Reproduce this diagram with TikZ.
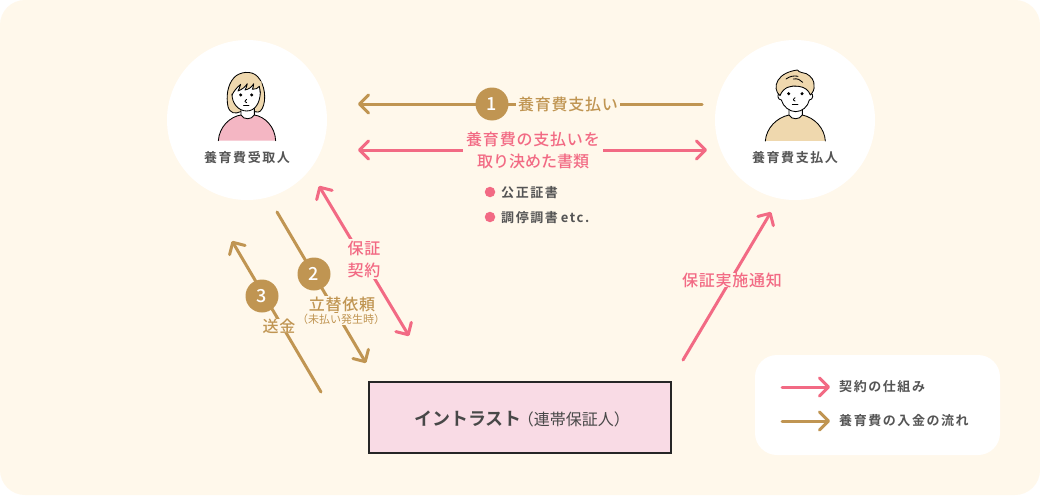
\documentclass[tikz,border=0pt]{standalone}
\usepackage{fontspec}
\setmainfont[BoldFont={Noto Sans CJK JP Bold}]{Noto Sans CJK JP Medium}
\newfontfamily\jpa[LetterSpace=5]{Noto Sans CJK JP Medium}
\newfontfamily\jpc[LetterSpace=0]{Noto Sans CJK JP Medium}
\newfontfamily\jpb[LetterSpace=12,BoldFont={Noto Sans CJK JP Bold}]{Noto Sans CJK JP Medium}
\newfontfamily\jpr{Noto Sans CJK JP}
\usetikzlibrary{arrows.meta}
\definecolor{bgc}{HTML}{FFF8EB}
\definecolor{pinkc}{HTML}{F26A84}
\definecolor{brownc}{HTML}{C09552}
\definecolor{darkc}{HTML}{555555}
\definecolor{boxc}{HTML}{F9DBE5}
\definecolor{hairc}{HTML}{EFD8AE}
\definecolor{shirtp}{HTML}{F4B6C3}
\tikzset{
  x=1pt,y=-1pt,
  flow/.style={line width=3pt,line cap=round,line join=round,-{Straight Barb[length=9pt,width=18pt,line width=3pt,round]}},
  pinkflow/.style={flow,draw=pinkc},
  brownflow/.style={flow,draw=brownc},
  bothflow/.style={pinkflow,{Straight Barb[length=9pt,width=18pt,line width=3pt,round]}-{Straight Barb[length=9pt,width=18pt,line width=3pt,round]}},
  person/.style={circle,fill=white,minimum size=160pt,inner sep=0pt},
  numdot/.style={circle,fill=brownc,text=white,minimum size=33pt,inner sep=0pt,font=\fontsize{18}{20}\selectfont},
  lab/.style={fill=bgc,inner sep=2pt,align=center,font=\jpa\fontsize{16}{22}\selectfont},
  dark/.style={text=darkc,inner sep=0pt,font=\jpb\bfseries\fontsize{13}{16}\selectfont},
  bullet/.style={circle,fill=pinkc,minimum size=10.5pt,inner sep=0pt},
  ink/.style={draw=black,line width=.85pt,line join=round,line cap=round},
  zoomed/.style={x=0.3333pt,y=-0.3333pt},
}
\begin{document}
\begin{tikzpicture}
\useasboundingbox (0,0) rectangle (1040,495);
\fill[white] (0,0) rectangle (1040,495);
\fill[bgc,rounded corners=25pt] (0,0) rectangle (1040,495);

\node[person] (recv) at (247,120) {};
\node[person] (payer) at (795,120) {};
\node[dark] (recvlab) at (247,158) {養育費受取人};
\node[dark] (payerlab) at (795,158) {養育費支払人};

% woman
\begin{scope}[shift={(210,65)},zoomed]
  \filldraw[ink,fill=hairc] (92,140) .. controls (75,148) and (60,145) .. (54,125)
    .. controls (48,95) and (52,60) .. (72,38) .. controls (88,20) and (125,15) .. (143,35)
    .. controls (165,58) and (170,105) .. (157,130) .. controls (150,145) and (140,142) .. (130,138) -- cycle;
  \fill[shirtp] (25,227) .. controls (28,185) and (60,155) .. (93,150)
    .. controls (100,163) and (125,163) .. (133,150) .. controls (165,155) and (195,185) .. (197,227) -- cycle;
  \draw[ink] (25,227) .. controls (28,185) and (60,155) .. (93,150);
  \draw[ink] (133,150) .. controls (165,155) and (195,185) .. (197,227);
  \filldraw[ink,fill=white] (93,130) -- (93,150) .. controls (100,165) and (125,165) .. (133,150) -- (133,130) -- cycle;
  \filldraw[ink,fill=white] (66,88) .. controls (66,115) and (85,138) .. (110,138)
    .. controls (135,138) and (150,115) .. (151,82) -- (150,60) -- (80,60) -- cycle;
  \fill[hairc] (66,90) .. controls (72,78) and (80,68) .. (92,58)
    .. controls (90,66) and (87,72) .. (84,78) .. controls (95,74) and (106,66) .. (112,56)
    .. controls (111,64) and (108,70) .. (105,75) .. controls (116,73) and (126,66) .. (131,56)
    .. controls (131,64) and (129,69) .. (127,73) .. controls (137,73) and (144,70) .. (148,64)
    .. controls (149,70) and (150,76) .. (151,84) -- (155,50) -- (105,35) -- (62,65) -- cycle;
  \draw[ink] (66,90) .. controls (72,78) and (80,68) .. (92,58)
    .. controls (90,66) and (87,72) .. (84,78) .. controls (95,74) and (106,66) .. (112,56)
    .. controls (111,64) and (108,70) .. (105,75) .. controls (116,73) and (126,66) .. (131,56)
    .. controls (131,64) and (129,69) .. (127,73) .. controls (137,73) and (144,70) .. (148,64)
    .. controls (149,70) and (150,76) .. (151,84);
  \fill (92,90) circle (5);
  \fill (125,90) circle (5);
  \draw[ink] (110,103) .. controls (103,108) and (104,113) .. (110,113);
  \draw[ink] (101,122) -- (117,122);
\end{scope}

% man
\begin{scope}[shift={(758,65)},zoomed]
  \fill[hairc] (22,228) .. controls (25,190) and (55,158) .. (93,150)
    .. controls (100,163) and (125,163) .. (133,150) .. controls (170,158) and (200,190) .. (202,228) -- cycle;
  \draw[ink] (22,228) .. controls (25,190) and (55,158) .. (93,150);
  \draw[ink] (133,150) .. controls (170,158) and (200,190) .. (202,228);
  \filldraw[ink,fill=white] (93,125) -- (93,150) .. controls (100,165) and (125,165) .. (133,150) -- (133,125) -- cycle;
  \filldraw[ink,fill=white] (66,85) .. controls (56,85) and (58,105) .. (70,105)
    .. controls (75,125) and (95,140) .. (113,140) .. controls (132,140) and (150,125) .. (154,105)
    .. controls (166,105) and (168,85) .. (157,85) .. controls (150,55) and (75,55) .. (66,85) -- cycle;
  \filldraw[ink,fill=hairc] (66,92) .. controls (53,82) and (50,62) .. (60,46)
    .. controls (70,28) and (95,18) .. (118,15) .. controls (125,24) and (135,22) .. (145,26)
    .. controls (160,34) and (170,48) .. (168,62)
    .. controls (170,72) and (165,82) .. (157,90) .. controls (152,76) and (140,66) .. (122,64)
    .. controls (100,60) and (76,66) .. (66,92) -- cycle;
  \draw[ink] (84,42) .. controls (95,34) and (108,31) .. (120,34);
  \draw[ink] (106,42) .. controls (118,40) and (128,44) .. (134,52);
  \fill (92,86) circle (5);
  \fill (132,86) circle (5);
  \draw[ink] (111,98) .. controls (104,103) and (105,108) .. (111,108);
  \draw[ink] (103,118) -- (120,118);
\end{scope}

% free ends
\coordinate (a1s) at (702,104); \coordinate (a1e) at (358,104);
\coordinate (a2s) at (358,150); \coordinate (a2e) at (707,150);
\coordinate (a3s) at (319,186); \coordinate (a3e) at (409,336);
\coordinate (a4s) at (277,212); \coordinate (a4e) at (366,363);
\coordinate (a5s) at (321,392); \coordinate (a5e) at (232,241);
\coordinate (a6s) at (683,360); \coordinate (a6e) at (771,212);

\draw[brownflow] (a1s) -- (a1e);
\draw[bothflow] (a2s) -- (a2e);
\draw[bothflow] (a3s) -- (a3e);
\draw[brownflow] (a4s) -- (a4e);
\draw[brownflow] (a5s) -- (a5e);
\draw[pinkflow] (a6s) -- (a6e);

\node[numdot] (n1) at (492,104) {1};
\node[numdot] (n2) at (314,274) {2};
\node[numdot] (n3) at (262,296) {3};

\node[lab,text=brownc] (l1) at (568,104) {養育費支払い};
\node[lab,text=pinkc,inner sep=0pt,inner xsep=3pt] (l2) at (533,150.5) {養育費の支払いを\\{\jpc\fontsize{16}{22}\selectfont 取り決めた書類}};
\node[lab,text=pinkc] (l3) at (364,259) {保証\\契約};
\node[lab,text=brownc,inner sep=0pt,inner ysep=1pt,inner xsep=1pt] (l4) at (342,304) {立替依頼};
\node[text=brownc,fill=bgc,inner sep=1pt,font=\jpr\fontsize{11}{13}\selectfont] (l4b) at (341,319) {（未払い発生時）};
\node[lab,text=brownc,inner sep=0pt,inner xsep=1pt] (l5) at (279,326) {送金};
\node[lab,text=pinkc,inner sep=0pt,inner xsep=1pt] (l6) at (732,280) {保証実施通知};

\node[bullet] (b1) at (490,192) {};
\node[bullet] (b2) at (490,217) {};
\node[dark,anchor=west] (t1) at (501,193) {公正証書};
\node[dark,anchor=west] (t2) at (501,218) {調停調書 \kern-1.5pt etc.};

\node[draw=black!85,line width=2pt,fill=boxc,minimum width=302pt,minimum height=71pt,inner sep=0pt] (box) at (519.5,417.5) {};
\node[text=darkc!85!black,inner sep=0pt,anchor=west] (boxlab) at (414,419)
  {\fontsize{18}{24}\selectfont\bfseries イントラスト\hspace{-4pt}\mdseries\jpr\fontsize{16}{24}\selectfont（連帯保証人）};

\node[fill=white,rounded corners=22pt,minimum width=245pt,minimum height=100pt,inner sep=0pt] (legend) at (877.5,405) {};
\coordinate (k1s) at (782,387); \coordinate (k1e) at (830,387);
\coordinate (k2s) at (782,421); \coordinate (k2e) at (830,421);
\draw[pinkflow] (k1s) -- (k1e);
\draw[brownflow] (k2s) -- (k2e);
\node[dark,anchor=west] (k1) at (839,387) {契約の仕組み};
\node[dark,anchor=west] (k2) at (839,421) {養育費の入金の流れ};
\end{tikzpicture}
\end{document}
